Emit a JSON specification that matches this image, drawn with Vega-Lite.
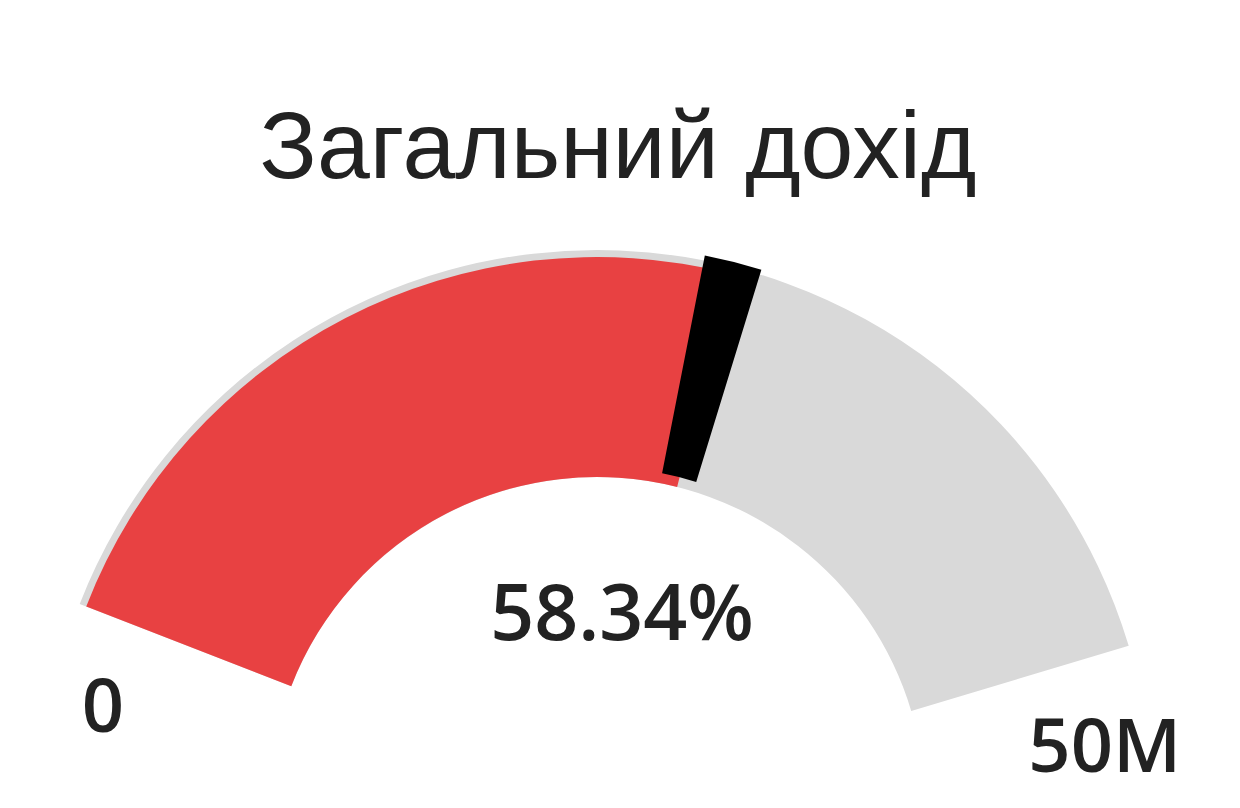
{
  "$schema": "https://vega.github.io/schema/vega-lite/v6.json",
  "autosize": "none",
  "width": 1194,
  "height": 6,
  "padding": {"top": 802, "left": 0, "right": 46, "bottom": 0},
  "background": "white",
  "title": {
    "text": "Загальний дохід",
    "font": "Liberation Sans",
    "fontSize": 95,
    "fontWeight": "normal",
    "color": "#222222",
    "anchor": "middle",
    "dx": 21,
    "offset": 52
  },
  "data": {
    "values": [
      {"part": "track", "start": 0, "end": 50, "label": ""},
      {"part": "value", "start": 0, "end": 29.17, "label": ""},
      {"part": "marker", "start": 28.1, "end": 30.2, "label": ""},
      {"part": "min", "start": 0, "end": 0, "label": "0"},
      {"part": "max", "start": 50, "end": 50, "label": "50M"},
      {"part": "pct", "start": 29.17, "end": 29.17, "label": "58.34%"}
    ]
  },
  "encoding": {
    "theta": {
      "field": "start",
      "type": "quantitative",
      "stack": null,
      "scale": {"domain": [0, 50], "range": [-1.2, 1.28]}
    }
  },
  "layer": [
    {
      "transform": [{"filter": "datum.part == 'track'"}],
      "mark": {"type": "arc", "outerRadius": 555, "innerRadius": 328, "color": "#d9d9d9"},
      "encoding": {"theta2": {"field": "end"}}
    },
    {
      "transform": [{"filter": "datum.part == 'value'"}],
      "mark": {"type": "arc", "outerRadius": 548, "innerRadius": 328, "color": "#e84142"},
      "encoding": {"theta2": {"field": "end"}}
    },
    {
      "transform": [{"filter": "datum.part == 'marker'"}],
      "mark": {"type": "arc", "outerRadius": 560, "innerRadius": 338, "color": "#000000"},
      "encoding": {"theta2": {"field": "end"}}
    },
    {
      "transform": [{"filter": "datum.part == 'min' || datum.part == 'max'"}],
      "mark": {
        "type": "text",
        "radius": 530,
        "dy": 97,
        "baseline": "middle",
        "font": "Open Sans",
        "fontWeight": 600,
        "fontSize": 74,
        "color": "#222222"
      },
      "encoding": {"text": {"field": "label"}}
    },
    {
      "transform": [{"filter": "datum.part == 'pct'"}],
      "mark": {
        "type": "text",
        "dx": 25,
        "dy": -188,
        "baseline": "middle",
        "font": "Open Sans",
        "fontWeight": 600,
        "fontSize": 77,
        "color": "#222222"
      },
      "encoding": {"text": {"field": "label"}, "theta": null}
    }
  ]
}
